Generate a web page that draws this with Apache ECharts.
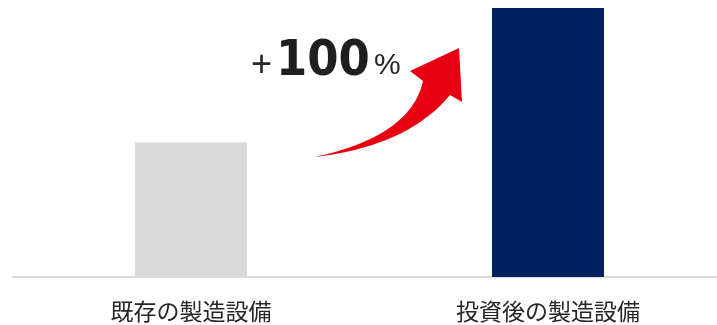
<!DOCTYPE html>
<html>
<head>
<meta charset="utf-8">
<script src="https://cdn.jsdelivr.net/npm/echarts@6/dist/echarts.min.js"></script>
<style>
  html, body { margin: 0; padding: 0; background: #fff; }
  #chart { width: 717px; height: 325px; }
</style>
</head>
<body>
<div id="chart"></div>
<script>
// Production capacity before and after the investment
const categories = ['既存の製造設備', '投資後の製造設備'];
const values = [100, 200];
const barColors = ['#d9d9d9', '#002060'];

// Growth rate shown above the arrow, derived from the two bars
const growthPct = Math.round((values[1] - values[0]) / values[0] * 100);

// Quadratic curve sampled into polygon points
function quad(p0, c, p1, n) {
  const pts = [];
  for (let i = 0; i <= n; i++) {
    const t = i / n, u = 1 - t;
    pts.push([
      u * u * p0[0] + 2 * u * t * c[0] + t * t * p1[0],
      u * u * p0[1] + 2 * u * t * c[1] + t * t * p1[1]
    ]);
  }
  return pts;
}

// Curved red arrow: tapered tail, widening shaft, triangular head
const tail = [315, 157];
const lowerEdge = quad(tail, [408, 146], [450, 95], 30);
const upperEdge = quad(tail, [411, 136], [423, 81], 30).reverse();
const arrowPoints = lowerEdge.concat([[462, 102], [459, 48], [410, 71]], upperEdge);

const chart = echarts.init(document.getElementById('chart'), null, { renderer: 'canvas' });

chart.setOption({
  animation: false,
  backgroundColor: '#ffffff',
  grid: {
    left: 12.5, top: 8, width: 714, bottom: 48,
    containLabel: false,
    outerBoundsMode: 'none'
  },
  xAxis: {
    type: 'category',
    data: categories,
    axisTick: { show: false },
    axisLine: { lineStyle: { color: '#d9d9d9', width: 2 } },
    axisLabel: {
      margin: 23,
      fontSize: 23,
      color: '#262626',
      fontFamily: '"Noto Sans CJK JP", sans-serif'
    }
  },
  yAxis: {
    type: 'value',
    min: 0,
    max: 200,
    show: false,
    splitLine: { show: false }
  },
  series: [{
    type: 'bar',
    barWidth: 112,
    data: values.map((v, i) => ({ value: v, itemStyle: { color: barColors[i] } }))
  }],
  graphic: [
    {
      type: 'polygon',
      z: 10,
      shape: { points: arrowPoints },
      style: { fill: '#e60012' }
    },
    {
      type: 'text',
      z: 10,
      x: 251, y: 66,
      style: {
        text: '+',
        fontSize: 36,
        fontFamily: '"Liberation Sans", Arial, sans-serif',
        fill: '#262626',
        textAlign: 'left',
        textVerticalAlign: 'middle'
      }
    },
    {
      type: 'text',
      z: 10,
      x: 276, y: 62,
      scaleX: 0.9,
      style: {
        text: String(growthPct),
        fontSize: 50,
        fontWeight: 'bold',
        fontFamily: '"DejaVu Sans", sans-serif',
        fill: '#1f1f1f',
        textAlign: 'left',
        textVerticalAlign: 'middle'
      }
    },
    {
      type: 'text',
      z: 10,
      x: 374, y: 66,
      style: {
        text: '%',
        fontSize: 30,
        fontFamily: '"Liberation Sans", Arial, sans-serif',
        fill: '#262626',
        textAlign: 'left',
        textVerticalAlign: 'middle'
      }
    }
  ]
});
</script>
</body>
</html>
